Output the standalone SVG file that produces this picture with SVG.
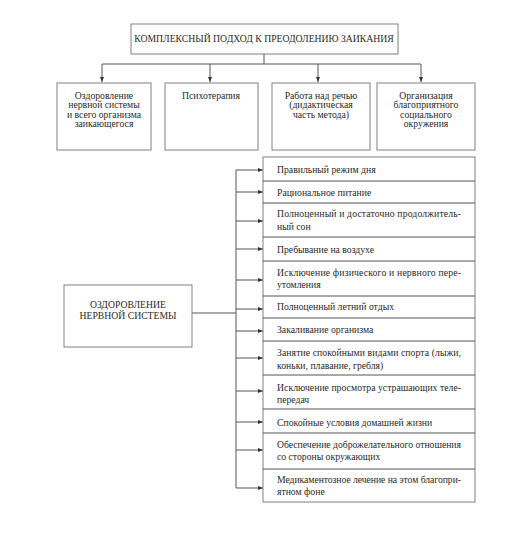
<svg xmlns="http://www.w3.org/2000/svg" width="525" height="553" viewBox="0 0 525 553" font-family="Liberation Serif, DejaVu Serif, serif">
<style>
.bx{fill:#fff;stroke:#808080;stroke-width:1}
text{font-family:"Liberation Serif",serif;font-size:9.7px;fill:#2a2a2a}
.c{text-anchor:middle}
.ln{fill:none;stroke:#555;stroke-width:1}
</style>
<defs>
<marker id="ah" markerWidth="5" markerHeight="4" refX="5" refY="2" orient="auto" markerUnits="userSpaceOnUse">
<path d="M0,0 L5,2 L0,4 Z" fill="#333"/>
</marker>
</defs>
<rect width="525" height="553" fill="#fff"/>
<g id="connectors">
<path class="ln" d="M264,54 V64"/>
<path class="ln" d="M102,64 H421"/>
<path class="ln" d="M102,64 V82" marker-end="url(#ah)"/>
<path class="ln" d="M210,64 V82" marker-end="url(#ah)"/>
<path class="ln" d="M318,64 V82" marker-end="url(#ah)"/>
<path class="ln" d="M421,64 V82" marker-end="url(#ah)"/>
<path class="ln" d="M192,313 H236"/>
<path class="ln" d="M236,170 V488"/>
<path class="ln" d="M236,170 H263" marker-end="url(#ah)"/>
<path class="ln" d="M236,192 H263" marker-end="url(#ah)"/>
<path class="ln" d="M236,221 H263" marker-end="url(#ah)"/>
<path class="ln" d="M236,249 H263" marker-end="url(#ah)"/>
<path class="ln" d="M236,280 H263" marker-end="url(#ah)"/>
<path class="ln" d="M236,309 H263" marker-end="url(#ah)"/>
<path class="ln" d="M236,331 H263" marker-end="url(#ah)"/>
<path class="ln" d="M236,358 H263" marker-end="url(#ah)"/>
<path class="ln" d="M236,391 H263" marker-end="url(#ah)"/>
<path class="ln" d="M236,422 H263" marker-end="url(#ah)"/>
<path class="ln" d="M236,450 H263" marker-end="url(#ah)"/>
<path class="ln" d="M236,488 H263" marker-end="url(#ah)"/>
</g>
<g id="title">
<rect class="bx" x="131" y="24" width="267" height="30"/>
<text class="c" x="264" y="42">КОМПЛЕКСНЫЙ ПОДХОД К ПРЕОДОЛЕНИЮ ЗАИКАНИЯ</text>
</g>
<g id="b1">
<rect class="bx" x="57" y="83" width="94" height="67"/>
<text class="c" x="104" y="98.5">Оздоровление</text>
<text class="c" x="104" y="108">нервной системы</text>
<text class="c" x="104" y="117.5">и всего организма</text>
<text class="c" x="104" y="127">заикающегося</text>
</g>
<g id="b2">
<rect class="bx" x="165" y="83" width="93" height="67"/>
<text class="c" x="211" y="98.5">Психотерапия</text>
</g>
<g id="b3">
<rect class="bx" x="272" y="83" width="98" height="67"/>
<text class="c" x="321" y="98.5">Работа над речью</text>
<text class="c" x="321" y="108">(дидактическая</text>
<text class="c" x="321" y="117.5">часть метода)</text>
</g>
<g id="b4">
<rect class="bx" x="377" y="83" width="98" height="67"/>
<text class="c" x="426" y="98.5">Организация</text>
<text class="c" x="426" y="108">благоприятного</text>
<text class="c" x="426" y="117.5">социального</text>
<text class="c" x="426" y="127">окружения</text>
</g>
<g id="health">
<rect class="bx" x="64" y="285" width="128" height="62"/>
<text class="c" x="128" y="307.5">ОЗДОРОВЛЕНИЕ</text>
<text class="c" x="128" y="318.5">НЕРВНОЙ СИСТЕМЫ</text>
</g>
<g id="list">
<rect class="bx" x="263" y="157" width="212" height="345"/>
<path class="ln" stroke="#808080" d="M263,181 H475 M263,203 H475 M263,237 H475 M263,261 H475 M263,296 H475 M263,318 H475 M263,341 H475 M263,375 H475 M263,409 H475 M263,433 H475 M263,469 H475"/>
</g>
<g id="r1"><text x="277" y="172.5">Правильный режим дня</text></g>
<g id="r2"><text x="277" y="195.5">Рациональное питание</text></g>
<g id="r3"><text x="277" y="216.5" textLength="184" lengthAdjust="spacing">Полноценный и достаточно продолжитель-</text><text x="277" y="229.5">ный сон</text></g>
<g id="r4"><text x="277" y="252.5">Пребывание на воздухе</text></g>
<g id="r5"><text x="277" y="275.5" textLength="184" lengthAdjust="spacing">Исключение физического и нервного пере-</text><text x="277" y="288">утомления</text></g>
<g id="r6"><text x="277" y="310">Полноценный летний отдых</text></g>
<g id="r7"><text x="277" y="333">Закаливание организма</text></g>
<g id="r8"><text x="277" y="355.5" textLength="184" lengthAdjust="spacing">Занятие спокойными видами спорта (лыжи,</text><text x="277" y="368.5">коньки, плавание, гребля)</text></g>
<g id="r9"><text x="277" y="390.5" textLength="184" lengthAdjust="spacing">Исключение просмотра устрашающих теле-</text><text x="277" y="403">передач</text></g>
<g id="r10"><text x="277" y="425.5">Спокойные условия домашней жизни</text></g>
<g id="r11"><text x="277" y="447.5" textLength="184" lengthAdjust="spacing">Обеспечение доброжелательного отношения</text><text x="277" y="460">со стороны окружающих</text></g>
<g id="r12"><text x="277" y="482.5" textLength="184" lengthAdjust="spacing">Медикаментозное лечение на этом благопри-</text><text x="277" y="495">ятном фоне</text></g>
</svg>
